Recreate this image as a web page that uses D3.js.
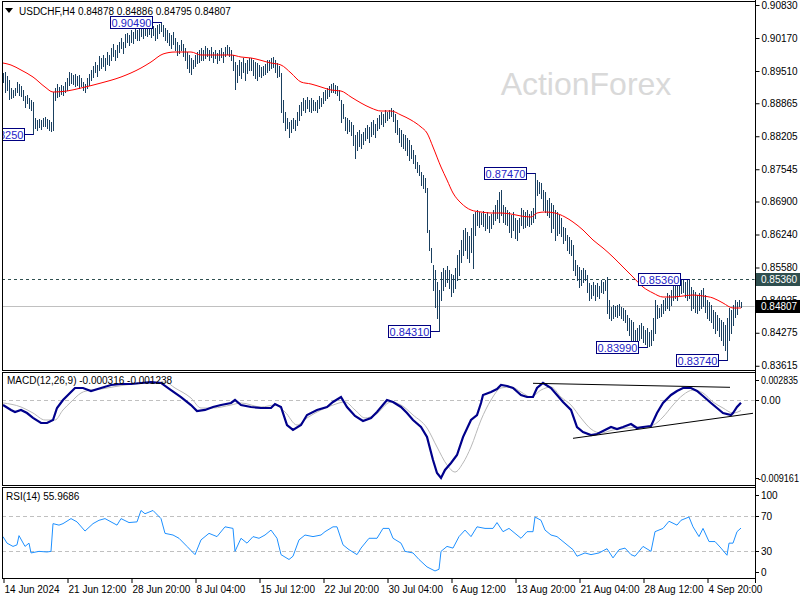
<!DOCTYPE html>
<html><head><meta charset="utf-8">
<script src="https://cdn.jsdelivr.net/npm/d3@7"></script>
<style>
body{margin:0;background:#fff}
svg{display:block}
text{font-family:"Liberation Sans",Arial,sans-serif;font-size:10px}
</style>
</head><body><svg id="c" width="800" height="600"></svg>
<script>
// ---------------- DATA ----------------
const symbolTitle = "USDCHF,H4  0.84878 0.84886 0.84795 0.84807";
const watermark = "ActionForex";

const highs = [
0.8947,0.8949,0.8941,0.8933,0.8917,0.8913,0.8917,0.8929,0.8925,0.8921,
0.8913,0.8901,0.8903,0.8897,0.8893,0.8889,0.8857,0.8853,0.8855,0.8853,
0.8857,0.8859,0.8855,0.8853,0.8849,0.8909,0.8917,0.8925,0.8919,0.8923,
0.8921,0.8929,0.8937,0.8949,0.8947,0.8943,0.8945,0.8941,0.8943,0.8937,
0.8929,0.8925,0.8937,0.8945,0.8953,0.8961,0.8969,0.8963,0.8981,0.8977,
0.8983,0.8977,0.8989,0.8983,0.8997,0.9005,0.8993,0.9003,0.9009,0.9017,
0.9009,0.9025,0.9027,0.9023,0.9033,0.9029,0.9037,0.9033,0.9037,0.9039,
0.9037,0.9041,0.9039,0.9043,0.9039,0.9041,0.9037,0.9043,0.9045,0.9049,
0.9043,0.9037,0.9033,0.9027,0.9023,0.9029,0.9017,0.9009,0.9003,0.9013,
0.9005,0.8997,0.8989,0.8983,0.8977,0.8973,0.8983,0.8989,0.8993,0.8997,
0.8993,0.9001,0.8997,0.8993,0.8999,0.8989,0.8993,0.8987,0.8993,0.8997,
0.8989,0.8999,0.9003,0.8999,0.8993,0.8983,0.8969,0.8963,0.8973,0.8969,
0.8977,0.8967,0.8973,0.8977,0.8977,0.8973,0.8969,0.8967,0.8963,0.8959,
0.8961,0.8965,0.8973,0.8973,0.8977,0.8979,0.8973,0.8967,0.8961,0.8947,
0.8893,0.8869,0.8857,0.8849,0.8853,0.8857,0.8853,0.8869,0.8883,0.8889,
0.8897,0.8893,0.8899,0.8893,0.8897,0.8893,0.8889,0.8893,0.8901,0.8897,
0.8909,0.8913,0.8917,0.8921,0.8925,0.8927,0.8923,0.8921,0.8913,0.8893,
0.8885,0.8859,0.8857,0.8853,0.8849,0.8843,0.8823,0.8829,0.8833,0.8825,
0.8829,0.8837,0.8843,0.8839,0.8849,0.8853,0.8845,0.8857,0.8863,0.8869,
0.8865,0.8873,0.8869,0.8873,0.8877,0.8873,0.8865,0.8853,0.8837,0.8833,
0.8825,0.8823,0.8817,0.8813,0.8803,0.8793,0.8783,0.8769,0.8763,0.8749,
0.8743,0.8737,0.8717,0.8633,0.8597,0.8563,0.8553,0.8529,0.8513,0.8549,
0.8557,0.8553,0.8561,0.8553,0.8545,0.8543,0.8557,0.8583,0.8593,0.8613,
0.8633,0.8637,0.8629,0.8621,0.8637,0.8665,0.8669,0.8673,0.8669,0.8667,
0.8671,0.8665,0.8669,0.8661,0.8665,0.8673,0.8683,0.8693,0.8709,0.8713,
0.8683,0.8679,0.8673,0.8669,0.8663,0.8669,0.8657,0.8653,0.8657,0.8677,
0.8673,0.8669,0.8673,0.8665,0.8671,0.8677,0.8747,0.8733,0.8729,0.8727,
0.8713,0.8709,0.8693,0.8697,0.8687,0.8683,0.8673,0.8669,0.8663,0.8657,
0.8639,0.8637,0.8623,0.8619,0.8613,0.8603,0.8573,0.8563,0.8559,0.8553,
0.8557,0.8553,0.8543,0.8527,0.8523,0.8529,0.8523,0.8527,0.8521,0.8533,
0.8529,0.8533,0.8539,0.8493,0.8479,0.8483,0.8481,0.8483,0.8485,0.8479,
0.8477,0.8473,0.8463,0.8457,0.8453,0.8449,0.8433,0.8437,0.8443,0.8447,
0.8441,0.8433,0.8437,0.8429,0.8433,0.8457,0.8493,0.8483,0.8477,0.8485,
0.8493,0.8497,0.8507,0.8503,0.8513,0.8523,0.8527,0.8523,0.8533,0.8535,
0.8533,0.8529,0.8533,0.8536,0.8519,0.8513,0.8509,0.8503,0.8507,0.8513,
0.8517,0.8503,0.8493,0.8489,0.8483,0.8473,0.8469,0.8463,0.8457,0.8453,
0.8449,0.8443,0.8457,0.8477,0.8473,0.8483,0.8493,0.8489,0.8493,0.84886];

const lows = [
0.8929,0.8909,0.8913,0.8895,0.8897,0.8899,0.8903,0.8909,0.8903,0.8901,
0.8893,0.8879,0.8887,0.8877,0.8873,0.8825,0.8837,0.8833,0.8839,0.8835,
0.8841,0.8841,0.8837,0.8833,0.8831,0.8833,0.8893,0.8899,0.8901,0.8905,
0.8903,0.8909,0.8913,0.8923,0.8927,0.8925,0.8921,0.8923,0.8917,0.8921,
0.8913,0.8909,0.8917,0.8923,0.8933,0.8939,0.8949,0.8941,0.8953,0.8957,
0.8961,0.8953,0.8965,0.8963,0.8973,0.8981,0.8973,0.8979,0.8989,0.8997,
0.8987,0.8999,0.9009,0.9003,0.9009,0.9007,0.9017,0.9013,0.9013,0.9021,
0.9017,0.9023,0.9021,0.9025,0.9019,0.9023,0.9013,0.9017,0.9027,0.9031,
0.9021,0.9013,0.9009,0.9003,0.8997,0.9005,0.8993,0.8983,0.8987,0.8993,
0.8981,0.8973,0.8957,0.8949,0.8945,0.8957,0.8961,0.8967,0.8969,0.8973,
0.8973,0.8977,0.8981,0.8973,0.8979,0.8969,0.8977,0.8967,0.8973,0.8979,
0.8969,0.8981,0.8985,0.8981,0.8973,0.8953,0.8915,0.8929,0.8943,0.8937,
0.8949,0.8933,0.8947,0.8953,0.8953,0.8943,0.8937,0.8933,0.8941,0.8939,
0.8943,0.8945,0.8949,0.8953,0.8957,0.8959,0.8949,0.8939,0.8941,0.8869,
0.8849,0.8833,0.8837,0.8819,0.8829,0.8837,0.8833,0.8843,0.8853,0.8863,
0.8873,0.8869,0.8877,0.8871,0.8869,0.8873,0.8873,0.8869,0.8877,0.8881,
0.8887,0.8893,0.8897,0.8901,0.8909,0.8909,0.8907,0.8903,0.8893,0.8849,
0.8857,0.8833,0.8827,0.8831,0.8823,0.8803,0.8777,0.8793,0.8801,0.8797,
0.8805,0.8813,0.8817,0.8809,0.8821,0.8825,0.8819,0.8833,0.8837,0.8845,
0.8841,0.8849,0.8853,0.8857,0.8861,0.8851,0.8829,0.8825,0.8809,0.8801,
0.8797,0.8793,0.8783,0.8773,0.8777,0.8767,0.8757,0.8749,0.8743,0.8723,
0.8717,0.8709,0.8629,0.8593,0.8569,0.8513,0.8479,0.8457,0.8431,0.8493,
0.8513,0.8521,0.8529,0.8517,0.8501,0.8509,0.8517,0.8533,0.8543,0.8569,
0.8583,0.8593,0.8577,0.8569,0.8589,0.8557,0.8623,0.8643,0.8639,0.8645,
0.8641,0.8633,0.8637,0.8629,0.8637,0.8645,0.8653,0.8657,0.8649,0.8663,
0.8649,0.8645,0.8643,0.8629,0.8619,0.8633,0.8617,0.8613,0.8629,0.8643,
0.8637,0.8639,0.8643,0.8641,0.8645,0.8649,0.8657,0.8703,0.8707,0.8697,
0.8673,0.8669,0.8663,0.8659,0.8629,0.8637,0.8613,0.8623,0.8627,0.8621,
0.8607,0.8613,0.8593,0.8587,0.8583,0.8553,0.8543,0.8533,0.8519,0.8523,
0.8529,0.8533,0.8509,0.8493,0.8497,0.8503,0.8493,0.8501,0.8497,0.8509,
0.8507,0.8513,0.8467,0.8457,0.8453,0.8457,0.8461,0.8459,0.8463,0.8457,
0.8453,0.8449,0.8433,0.8423,0.8413,0.8403,0.8407,0.8401,0.8413,0.8417,
0.8409,0.8405,0.8399,0.8401,0.8403,0.8413,0.8427,0.8457,0.8459,0.8461,
0.8467,0.8473,0.8477,0.8473,0.8483,0.8493,0.8497,0.8493,0.8503,0.8507,
0.8509,0.8499,0.8493,0.8497,0.8473,0.8477,0.8469,0.8467,0.8473,0.8477,
0.8481,0.8469,0.8457,0.8453,0.8449,0.8437,0.8427,0.8433,0.8421,0.8413,
0.8403,0.8393,0.8374,0.8413,0.8427,0.8443,0.8459,0.8465,0.8481,0.84795];

// moving average (red) sampled at bar indices
const maBars = [0,4,9,15,21,25,32,39,49,59,69,74,80,86,94,99,106,114,119,124,134,139,144,149,154,159,164,169,174,179,184,189,194,199,204,209,212,215,219,222,225,229,234,239,244,249,254,259,264,267,271,276,281,285,290,295,300,305,310,315,320,325,330,335,340,345,350,355,360,365,369];
const maValues = [0.8967,0.8963,0.8953,0.8939,0.8919,0.8909,0.8911,0.8917,0.8927,0.8939,0.8957,0.8969,0.8985,0.8989,0.8989,0.8983,0.8983,0.8983,0.8979,0.8977,0.8967,0.8963,0.8947,0.8929,0.8925,0.8919,0.8913,0.8911,0.8899,0.8887,0.8877,0.8871,0.8871,0.8863,0.8853,0.8839,0.8827,0.8799,0.8759,0.8733,0.8707,0.8687,0.8673,0.8669,0.8667,0.8667,0.8665,0.8661,0.8659,0.8667,0.8669,0.8667,0.8659,0.8649,0.8633,0.8613,0.8597,0.8579,0.8559,0.8539,0.8519,0.8507,0.8499,0.8499,0.8501,0.8503,0.8501,0.8497,0.8487,0.8477,0.8477];

// MACD(12,26,9), values in units of 1e-4
const macdBars = [0,4,6,9,12,15,19,22,25,27,30,34,36,40,44,49,54,59,64,69,74,79,84,89,94,97,101,105,109,114,116,119,124,129,134,136,139,142,145,149,152,157,162,165,169,172,176,180,184,187,192,195,199,202,205,209,212,215,217,219,221,224,227,230,234,237,239,240,244,247,249,252,255,259,262,265,267,270,274,277,280,284,287,290,294,297,300,304,307,310,314,317,320,324,327,330,334,337,340,344,347,350,354,357,360,364,365,367,369];
const macdMain = [-5.9,-11.7,-14.1,-11.7,-15.3,-21.1,-27.0,-27.0,-23.5,-9.4,0,9.4,14.1,14.1,10.6,14.1,17.6,18.8,18.8,20.0,21.1,20.0,11.7,3.5,-5.9,-12.9,-11.7,-8.2,-5.9,-3.5,0,-5.9,-8.2,-9.4,-9.4,-4.7,-8.2,-29.4,-35.2,-29.4,-17.6,-11.7,-8.2,-2.3,3.5,-8.2,-18.8,-24.7,-21.1,-14.1,0,-2.3,-8.2,-15.3,-23.5,-31.7,-43.5,-70.5,-85.7,-91.6,-82.2,-74.0,-64.6,-43.5,-23.5,-17.6,-3.5,5.9,9.4,12.9,17.6,16.4,14.1,5.9,3.5,3.5,14.1,20.0,14.1,5.9,-2.3,-11.7,-31.7,-37.6,-41.1,-39.9,-36.4,-31.7,-34.1,-31.7,-28.2,-32.9,-31.7,-30.5,-15.3,-3.5,5.9,10.6,14.1,14.1,10.6,4.7,-3.5,-9.4,-15.3,-17.6,-15.3,-8.2,-3.2];
const signalBars = [0,9,15,21,26,30,34,39,44,49,55,65,74,81,86,94,99,105,114,119,129,136,141,147,152,159,165,171,176,181,186,194,199,205,212,217,222,226,230,234,239,244,249,254,259,264,269,274,279,284,289,294,299,305,312,319,325,330,335,340,345,350,355,360,365,369];
const signalValues = [-3.5,-8.2,-15.3,-23.5,-23.5,-11.7,-2.3,8.2,11.7,12.9,15.3,18.8,20.0,21.1,14.1,2.3,-9.4,-9.4,-5.9,-3.5,-8.2,-5.9,-14.1,-29.4,-21.1,-11.7,-5.9,-2.3,-11.7,-21.1,-17.6,-2.3,-5.9,-17.6,-32.9,-55.2,-76.3,-84.6,-74.0,-55.2,-23.5,0,14.1,15.3,9.4,3.5,11.7,15.3,3.5,-5.9,-21.1,-34.1,-38.8,-35.2,-32.9,-31.7,-29.4,-20.0,-5.9,5.9,11.7,8.2,-2.3,-9.4,-15.3,-12.4];
// MACD trendlines: [barStart, valueStart, barEnd, valueEnd] (1e-4)
const macdTrendUpper = [265, 19.6, 363.5, 14.9];
const macdTrendLower = [285, -45.0, 375, -15.6];

// RSI(14)
const rsiBars = [0,2,5,7,8,11,13,14,18,22,24,25,28,30,34,37,41,45,48,51,54,57,59,63,67,69,71,75,79,81,85,88,92,96,99,103,107,111,115,116,119,122,125,128,131,134,137,139,143,145,148,151,155,159,161,165,167,170,173,177,179,183,187,190,193,195,199,201,205,208,212,216,218,219,222,225,228,231,234,237,241,245,247,250,253,256,259,262,265,266,269,271,274,277,281,285,287,291,294,298,302,305,308,311,314,316,320,324,326,330,333,337,339,343,345,348,350,353,356,359,362,363,365,367,369];
const rsiValues = [46.3,38.9,35.2,37,47.4,35.2,38.9,27.8,29.6,28.9,29.6,61,59.3,61,66.7,63,52.6,61,64.8,66.7,63,59.3,66.7,62.2,63,75.9,72.2,75.9,66.7,50,48.1,44.4,35.2,25.9,42.6,50,46.3,57.4,55.6,29.6,44.4,38.9,46.3,44.4,48.1,53.7,44.4,25.9,20.4,24.1,42.6,48.1,46.3,48.1,51.9,57.4,57.4,37,31.5,25.9,33.3,44.4,44.4,55.6,55.6,44.4,38.9,29.6,27.8,20.4,12,7.4,9.3,29.6,35.2,33.3,46.3,53.7,46.3,57.4,55.6,55.6,62.2,51.9,55.6,50,44.4,51.9,51.9,68.5,64.8,53.7,48.1,46.3,38.9,31.5,24.1,27.8,25.9,27.8,32.6,22.2,31.5,33.3,25.9,24.1,35.2,29.6,51.9,55.6,63.7,59.3,64.8,68.5,57.4,46.3,55.6,40.7,40.7,33.3,25.2,38.9,38.9,51.9,56];

// price axis and other labels
const priceTicks = [0.90830,0.90170,0.89510,0.88865,0.88205,0.87545,0.86900,0.86240,0.85580,0.84925,0.84275,0.83615];
const macdTicks = [0.002835, 0, -0.009161];
const macdTickLabels = ["0.002835","0.00","-0.009161"];
const rsiTicks = [100,70,30,0];
const rsiLevels = [70,30];
const timeTickBars = [0,32,64,96,128,160,192,224,256,288,320,352];
const timeTickLabels = ["14 Jun 2024","21 Jun 12:00","28 Jun 20:00","8 Jul 04:00","15 Jul 12:00","22 Jul 20:00","30 Jul 04:00","6 Aug 12:00","13 Aug 20:00","21 Aug 04:00","28 Aug 12:00","4 Sep 20:00"];

// swing labels
const swingTexts  = ["0.90490","0.88250","0.84310","0.87470","0.85360","0.83990","0.83740"];
const swingBars   = [79,15,218,266,343,322,362];
const swingPrices = [0.9049,0.8825,0.8431,0.8747,0.8536,0.8399,0.8374];

const resistanceLevel = 0.8536;
const lastPrice = 0.84807;
const macdText = "MACD(12,26,9) -0.000316 -0.001238";
const rsiText = "RSI(14) 55.9686";

// ---------------- LAYOUT ----------------
const svg = d3.select("#c");
const LEFT = 2, AXIS = 755;
const P = {main:[1,370.5], macd:[372.5,485], rsi:[487.5,578]};

const x = d3.scaleLinear().domain([0, 369]).range([3, 741]);
const yP = d3.scaleLinear().domain([0.9093, 0.8353]).range([0, 370]);
const yM = d3.scaleLinear().domain([0, -0.009161]).range([400, 478]);
const yR = d3.scaleLinear().domain([0, 100]).range([577.5, 489.2]);
const px = i => Math.round(x(i)) + 0.5;

const defs = svg.append("defs");
Object.entries(P).forEach(([k,[t,b]]) => {
  defs.append("clipPath").attr("id","clip-"+k).append("rect")
    .attr("x",LEFT+0.5).attr("y",t+0.5).attr("width",AXIS-LEFT-1).attr("height",b-t-1);
});

// watermark
svg.append("text").attr("x",586).attr("y",95).attr("text-anchor","middle")
  .style("font-size","32px").style("fill","#d9d9d9").text(watermark);

// ---- main panel ----
const gMain = svg.append("g").attr("clip-path","url(#clip-main)");

gMain.append("line").attr("x1",LEFT).attr("x2",AXIS)
  .attr("y1",Math.round(yP(resistanceLevel))+0.5).attr("y2",Math.round(yP(resistanceLevel))+0.5)
  .attr("stroke","#2f4f4f").attr("stroke-dasharray","3,3");
gMain.append("line").attr("x1",LEFT).attr("x2",AXIS)
  .attr("y1",Math.round(yP(lastPrice))+0.5).attr("y2",Math.round(yP(lastPrice))+0.5)
  .attr("stroke","#c0c0c0");

gMain.selectAll("line.bar").data(highs).enter().append("line").attr("class","bar")
  .attr("x1",(d,i)=>px(i)).attr("x2",(d,i)=>px(i))
  .attr("y1",d=>Math.round(yP(d))).attr("y2",(d,i)=>Math.round(yP(lows[i]))+1)
  .attr("stroke","#1a4060").attr("stroke-width",1);

gMain.append("path").datum(maBars.map((b,i)=>[b,maValues[i]]))
  .attr("fill","none").attr("stroke","#ff0000").attr("stroke-width",1)
  .attr("d",d3.line().x(d=>x(d[0])).y(d=>yP(d[1])).curve(d3.curveMonotoneX));

swingTexts.forEach((t,k)=>{
  const bx = px(swingBars[k]);
  const by = Math.round(yP(swingPrices[k]))+0.5;
  const right = Math.round(bx - 10)+0.5, w = 42, h = 12;
  gMain.append("line").attr("x1",right).attr("x2",bx).attr("y1",by).attr("y2",by)
    .attr("stroke","#000080");
  gMain.append("rect").attr("x",right-w).attr("y",by-h/2).attr("width",w).attr("height",h)
    .attr("fill","#fff").attr("stroke","#000080");
  gMain.append("text").attr("x",right-w/2).attr("y",by+4).attr("text-anchor","middle")
    .style("fill","#2424c8").style("font-size","11px").text(t);
});

svg.append("path").attr("d","M5,8 L13,8 L9,13 Z").attr("fill","#000");
svg.append("text").attr("x",19).attr("y",15).style("fill","#000").text(symbolTitle);

// ---- MACD panel ----
const gM = svg.append("g").attr("clip-path","url(#clip-macd)");
gM.append("line").attr("x1",LEFT).attr("x2",AXIS).attr("y1",yM(0)+0.5).attr("y2",yM(0)+0.5)
  .attr("stroke","#c0c0c0").attr("stroke-dasharray","4,3");
gM.append("path").datum(signalBars.map((b,i)=>[b,signalValues[i]*1e-4]))
  .attr("fill","none").attr("stroke","#b8b8b8").attr("stroke-width",1)
  .attr("d",d3.line().x(d=>x(d[0])).y(d=>yM(d[1])).curve(d3.curveMonotoneX));
gM.append("path").datum(macdBars.map((b,i)=>[b,macdMain[i]*1e-4]))
  .attr("fill","none").attr("stroke","#00008b").attr("stroke-width",2.2)
  .attr("d",d3.line().x(d=>x(d[0])).y(d=>yM(d[1])));
[macdTrendUpper, macdTrendLower].forEach(t=>{
  gM.append("line").attr("x1",x(t[0])).attr("y1",yM(t[1]*1e-4))
    .attr("x2",x(t[2])).attr("y2",yM(t[3]*1e-4)).attr("stroke","#000").attr("stroke-width",1);
});
svg.append("text").attr("x",7).attr("y",384).style("fill","#000").text(macdText);

// ---- RSI panel ----
const gR = svg.append("g").attr("clip-path","url(#clip-rsi)");
rsiLevels.forEach(l=>{
  gR.append("line").attr("x1",LEFT).attr("x2",AXIS).attr("y1",Math.round(yR(l))+0.5).attr("y2",Math.round(yR(l))+0.5)
    .attr("stroke","#c0c0c0").attr("stroke-dasharray","4,3");
});
gR.append("path").datum(rsiBars.map((b,i)=>[b,rsiValues[i]]))
  .attr("fill","none").attr("stroke","#1e90ff").attr("stroke-width",1)
  .attr("d",d3.line().x(d=>x(d[0])).y(d=>yR(d[1])));
svg.append("text").attr("x",6).attr("y",500).style("fill","#000").text(rsiText);

// ---- frames ----
const frame = svg.append("g").attr("stroke","#000").attr("stroke-width",1).attr("shape-rendering","crispEdges");
Object.values(P).forEach(([t,b])=>{
  frame.append("line").attr("x1",LEFT).attr("x2",AXIS).attr("y1",t).attr("y2",t);
  frame.append("line").attr("x1",LEFT).attr("x2",AXIS).attr("y1",b).attr("y2",b);
  frame.append("line").attr("x1",LEFT+0.5).attr("x2",LEFT+0.5).attr("y1",t).attr("y2",b);
});
frame.append("line").attr("x1",AXIS+0.5).attr("x2",AXIS+0.5).attr("y1",0).attr("y2",P.rsi[1]);

// ---- price axis ----
const axP = d3.axisRight(yP).tickValues(priceTicks).tickSize(4).tickFormat(d=>d.toFixed(5));
const gAx = svg.append("g").attr("transform",`translate(${AXIS+0.5},0)`).call(axP);
gAx.select(".domain").remove();
gAx.selectAll("text").attr("x",6).style("font-size","10px").style("fill","#000");
gAx.selectAll("line").attr("stroke","#000");

[[resistanceLevel,"#2f4f4f","0.85360"],[lastPrice,"#000","0.84807"]].forEach(([v,c,t])=>{
  const yy = Math.round(yP(v));
  svg.append("rect").attr("x",AXIS+1).attr("y",yy-6).attr("width",44).attr("height",13).attr("fill",c);
  svg.append("text").attr("x",AXIS+6).attr("y",yy+4).style("fill","#fff").text(t);
});

const macdLabelWidths = [37, 8, 41];
macdTicks.forEach((v,k)=>{
  const yy = yM(v);
  const ty = Math.max(P.macd[0]+7, Math.min(P.macd[1]-7, yy));
  svg.append("line").attr("x1",AXIS).attr("x2",AXIS+4).attr("y1",Math.round(ty)+0.5).attr("y2",Math.round(ty)+0.5).attr("stroke","#000");
  const tx = svg.append("text").attr("x",k===2?AXIS+3:AXIS+6).attr("y",ty+4).style("fill","#000").text(macdTickLabels[k]);
  if (k!==1) tx.attr("textLength",macdLabelWidths[k]).attr("lengthAdjust","spacingAndGlyphs");
});
rsiTicks.forEach(v=>{
  const yy = yR(v);
  const ty = Math.max(P.rsi[0]+7, Math.min(P.rsi[1]-6, yy));
  svg.append("line").attr("x1",AXIS).attr("x2",AXIS+4).attr("y1",Math.round(ty)+0.5).attr("y2",Math.round(ty)+0.5).attr("stroke","#000");
  svg.append("text").attr("x",AXIS+6).attr("y",ty+4).style("fill","#000").text(String(v));
});

// ---- time axis ----
const axT = d3.axisBottom(x).tickValues(timeTickBars).tickSize(5).tickFormat((d,i)=>timeTickLabels[i]);
const gT = svg.append("g").attr("transform",`translate(0,${P.rsi[1]})`).call(axT);
gT.select(".domain").remove();
gT.selectAll("line").attr("stroke","#000").attr("transform","translate(0.5,0)");
gT.selectAll("text").attr("text-anchor","start").attr("x",1).attr("y",8).style("font-size","10px").style("fill","#000");
svg.append("line").attr("x1",AXIS+0.5).attr("x2",AXIS+0.5).attr("y1",P.rsi[1]).attr("y2",P.rsi[1]+5).attr("stroke","#000");
</script>
</body></html>
